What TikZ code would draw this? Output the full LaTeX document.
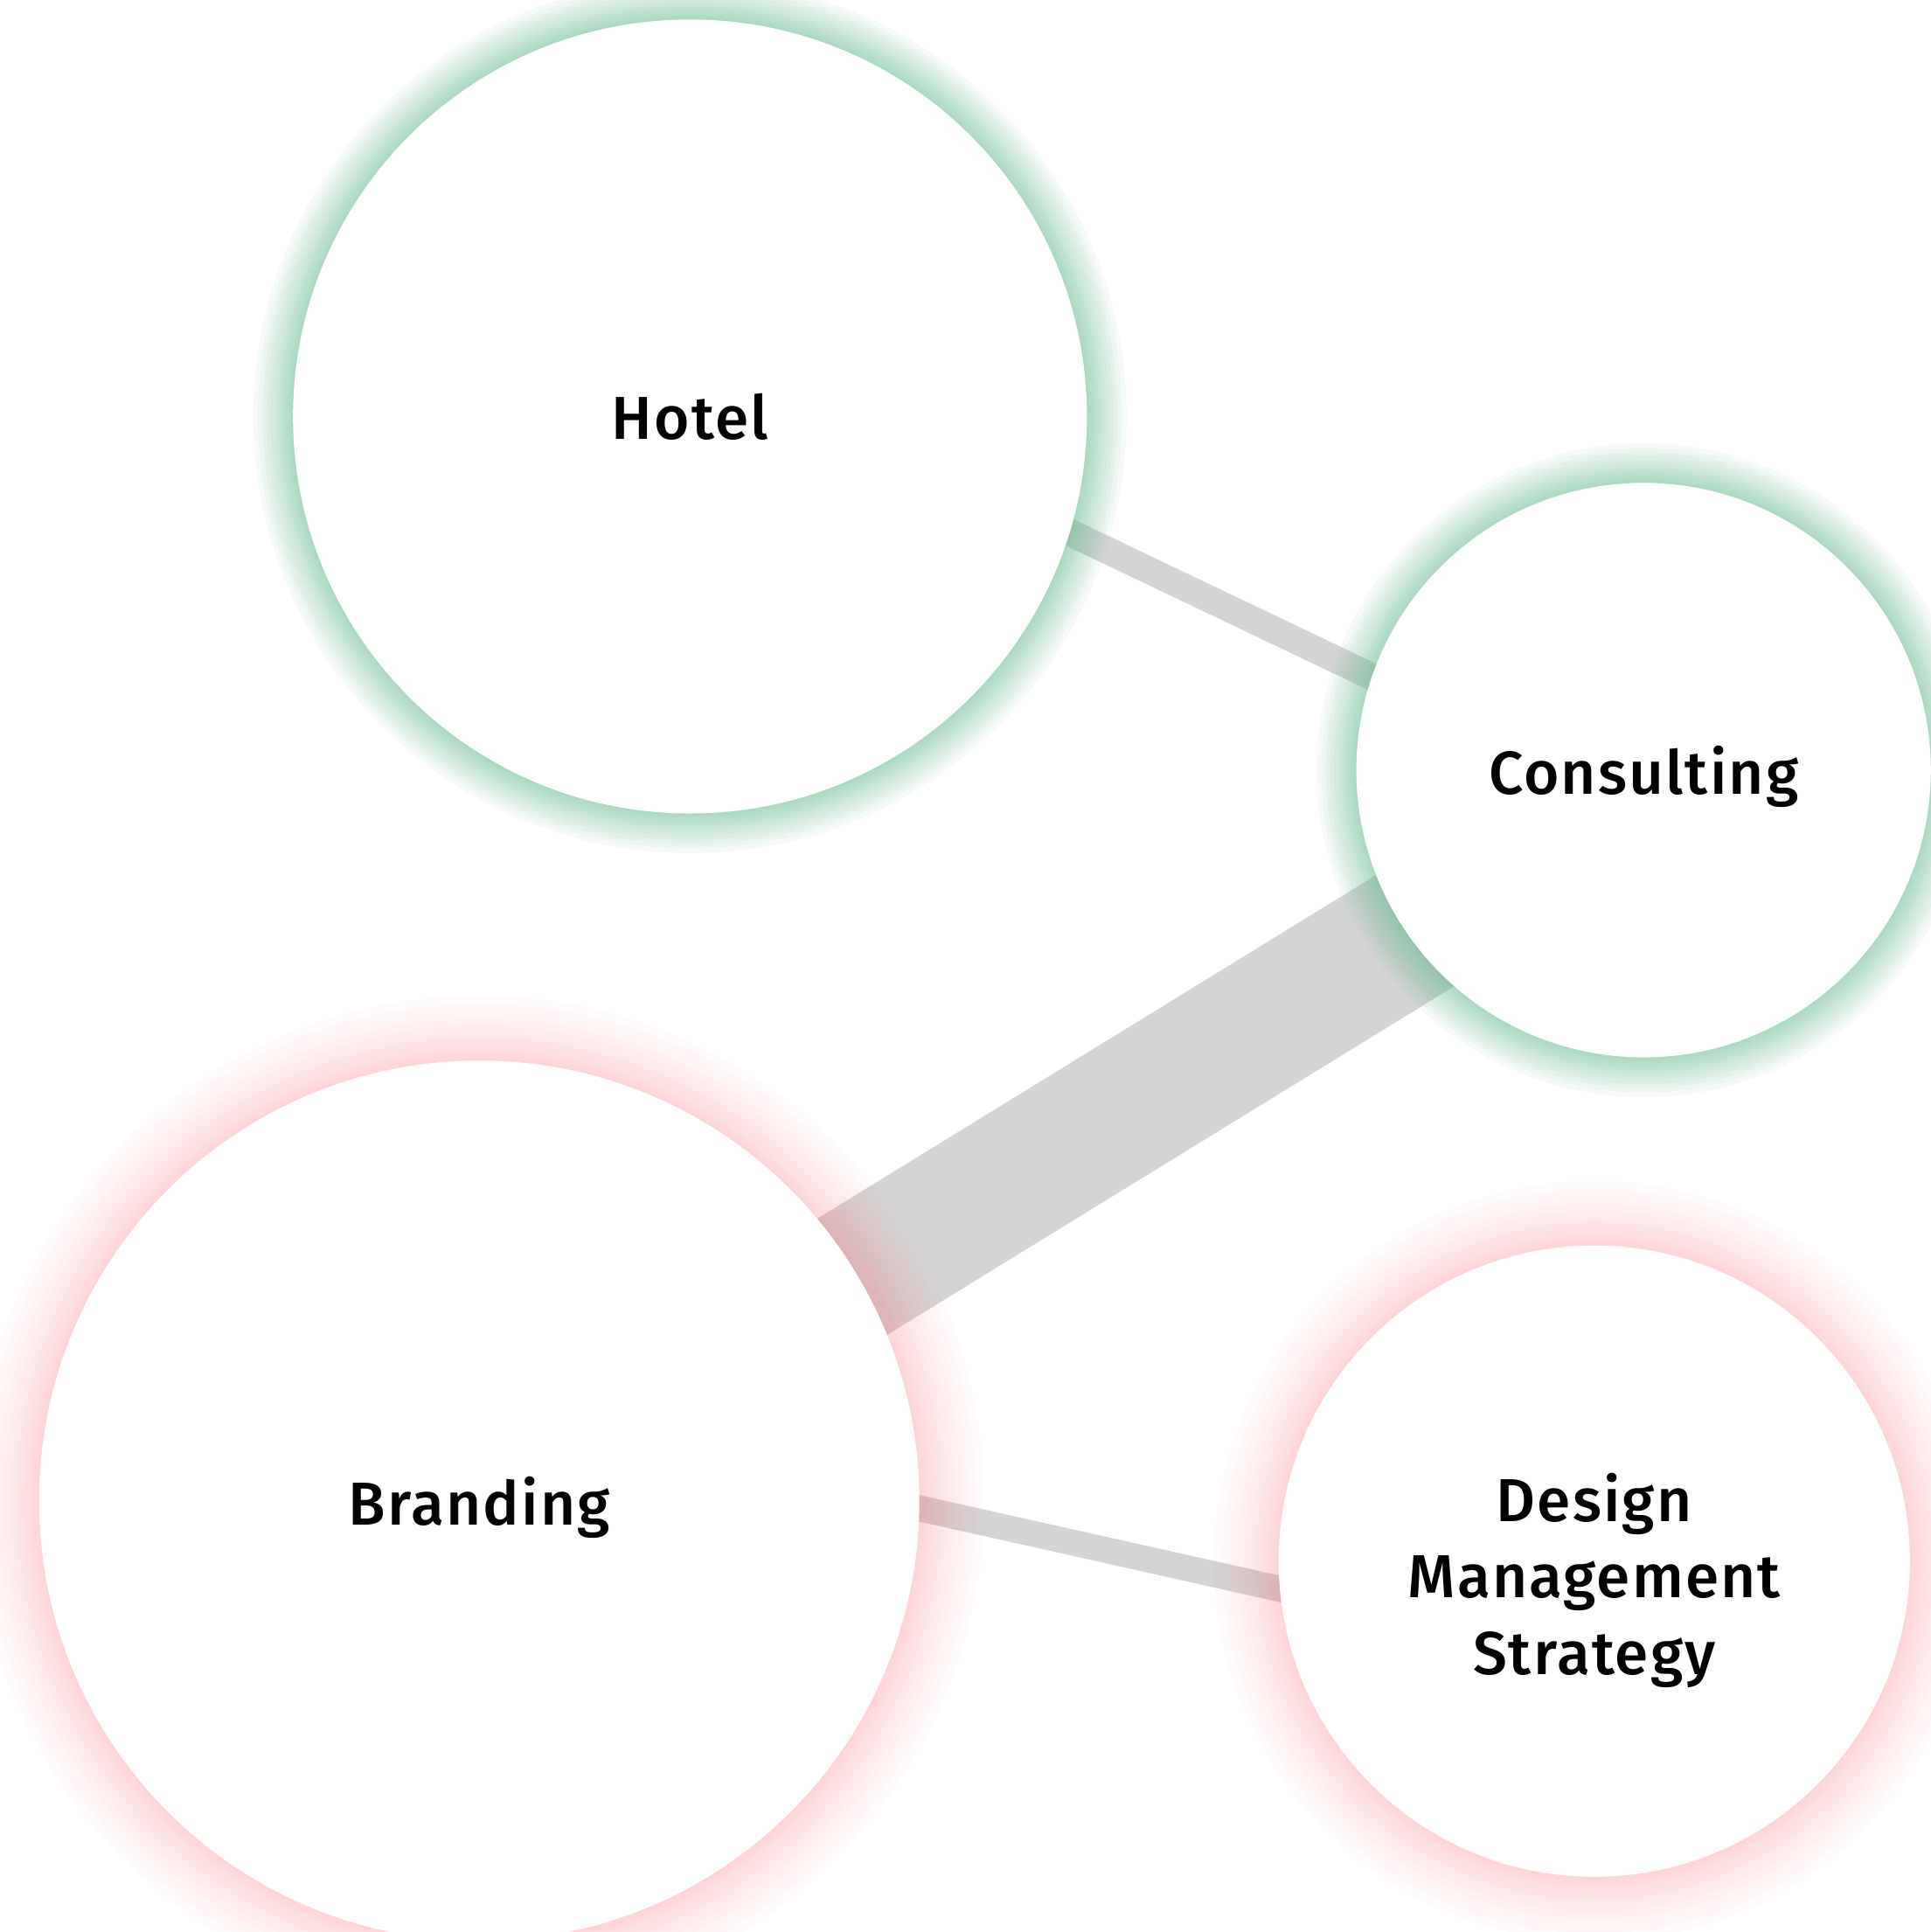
\documentclass[tikz,border=0pt]{standalone}
\usepackage{fontspec}
\newfontfamily\labelfont{Fira Sans}[UprightFont={* Medium},LetterSpace=3]
\usetikzlibrary{backgrounds}
\definecolor{linkgray}{RGB}{212,212,212}
\definecolor{glowgreen}{RGB}{110,190,150}
\definecolor{glowred}{RGB}{255,120,130}
\begin{document}
\begin{tikzpicture}%
	[x=0.01cm, y=-0.01cm,
	bubble/.style={circle, fill=white, inner sep=0pt, align=center, text depth=0pt,
		font=\labelfont\fontsize{14}{17.6}\selectfont},
	link/.style={draw=linkgray, shorten <=-8mm, shorten >=-8mm},
	greenglow/.style={fill=glowgreen, opacity=0.07},
	redglow/.style={fill=glowred, opacity=0.03}]
%
\useasboundingbox (0,0) rectangle (1567,1568);
%%
%% The bubbles
%%
\node[bubble, minimum size=6.44cm] (hotel) at (560,338) {Hotel};
\node[bubble, minimum size=4.66cm] (consulting) at (1334,625) {Consulting};
\node[bubble, minimum size=7.14cm] (branding) at (389,1218) {Branding};
\node[bubble, minimum size=5.12cm] (design) at (1294,1267)
	{\rule{0pt}{17pt}Design\\Management\\Strategy};
%%
%% Links and glows in the back
%%
\begin{pgfonlayer}{background}
\draw[link, line width=2.2mm] (hotel.-17.2) -- (consulting.161.6);
\draw[link, line width=11mm] (consulting.215) -- (branding.31.4);
\draw[link, line width=2.1mm] (branding.-1.8) -- (design.185.4);
%
\foreach \k in {1,...,12} {
	\fill[greenglow] (hotel.center) circle (322+1.5*\k+0.1*\k*\k);
	\fill[greenglow] (consulting.center) circle (233+1.5*\k+0.1*\k*\k);
	\fill[redglow] (branding.center) circle (357+2*\k+0.2*\k*\k);
	\fill[redglow] (design.center) circle (256+2*\k+0.2*\k*\k);
}
\end{pgfonlayer}
%%
\end{tikzpicture}
\end{document}
